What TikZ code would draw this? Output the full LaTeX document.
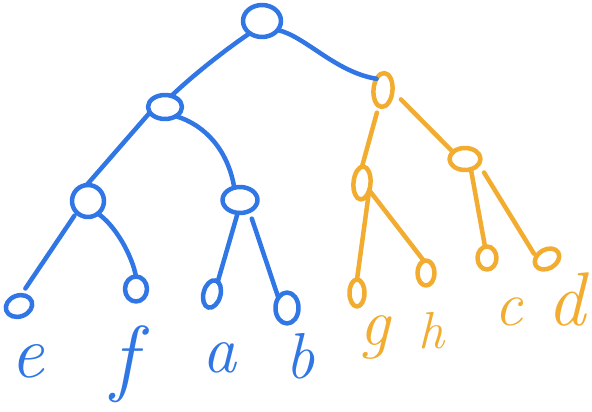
\documentclass[tikz,border=0pt]{standalone}
\usetikzlibrary{shapes.geometric}
\definecolor{penblue}{RGB}{48,118,228}
\definecolor{penorange}{RGB}{242,172,48}
\begin{document}
\begin{tikzpicture}[x=1pt,y=-1pt,
  pen/.style={line width=4.5pt,line cap=round,line join=round},
  blueink/.style={pen,draw=penblue},
  orangeink/.style={pen,draw=penorange},
  knot/.style={ellipse,inner sep=0pt,outer sep=0pt},
  lbl/.style={anchor=base,inner sep=0pt,font=\fontsize{#1}{#1}\selectfont\itshape},
  bluetext/.style={text=penblue},
  orangetext/.style={text=penorange}]
\fill[white] (0,0) rectangle (592,412);
\useasboundingbox (0,0) rectangle (592,412);

% blue nodes
\node[knot,blueink,minimum width=38pt,minimum height=32pt] (root) at (262,21) {};
\node[knot,blueink,minimum width=34pt,minimum height=24pt] (L1) at (165,107) {};
\node[knot,blueink,minimum width=32pt,minimum height=32pt] (LL) at (88,201) {};
\node[knot,blueink,minimum width=35pt,minimum height=26pt] (LR) at (240,200) {};
\node[knot,blueink,minimum width=27pt,minimum height=21pt,rotate=20] (e) at (19,306) {};
\node[knot,blueink,minimum width=22pt,minimum height=25pt] (f) at (136,289) {};
\node[knot,blueink,minimum width=17pt,minimum height=28pt,rotate=-15] (a) at (212,294) {};
\node[knot,blueink,minimum width=23pt,minimum height=31pt] (b) at (287,308) {};

% orange nodes
\node[knot,orangeink,minimum width=19pt,minimum height=34pt,rotate=-5] (R1) at (383,90) {};
\node[knot,orangeink,minimum width=17pt,minimum height=33pt,rotate=-5] (RL) at (362,183) {};
\node[knot,orangeink,minimum width=31pt,minimum height=22pt] (RR) at (465,159) {};
\node[knot,orangeink,minimum width=15pt,minimum height=27pt] (g) at (357,293) {};
\node[knot,orangeink,minimum width=17pt,minimum height=25pt] (h) at (426,273) {};
\node[knot,orangeink,minimum width=19pt,minimum height=23pt] (c) at (487,258) {};
\node[knot,orangeink,minimum width=26pt,minimum height=19pt,rotate=30] (d) at (547,259) {};

% blue connectors
\draw[blueink] (root.225) .. controls (222,52) and (190,78) .. (L1.60);
\draw[blueink] (root.-30) .. controls (305,36) and (335,72) .. (R1.125);
\draw[blueink] (L1.200) -- (LL.95);
\draw[blueink] (L1.-40) .. controls (205,125) and (228,150) .. (LR.115);
\draw[blueink,shorten <=4pt,shorten >=8pt] (LL.225) -- (e.60);
\draw[blueink] (LL.-52) .. controls (115,225) and (132,255) .. (f.90);
\draw[blueink] (LR.-100) -- (a.80);
\draw[blueink,shorten <=8pt] (LR.-50) -- (b.130);

% orange connectors
\draw[orangeink,shorten <=7pt] (R1.-100) -- (RL.95);
\draw[orangeink,shorten <=12pt] (R1.0) -- (RR.150);
\draw[orangeink] (RL.-40) -- (g.90);
\draw[orangeink] (RL.-40) -- (h.100);
\draw[orangeink] (RR.-60) -- (c.100);
\draw[orangeink,shorten <=10pt,shorten >=4pt] (RR.-20) -- (d.140);

% labels
\node[lbl=75,bluetext] (le) at (27,377) {e};
\node[lbl=85,bluetext] (lf) at (124,385) {f};
\node[lbl=68,bluetext] (la) at (219,372) {a};
\node[lbl=65,bluetext] (lb) at (300,378) {b};
\node[lbl=68,orangetext] (lg) at (375,345) {g};
\node[lbl=52,orangetext] (lh) at (431,348) {h};
\node[lbl=63,orangetext] (lc) at (509,325) {c};
\node[lbl=76,orangetext] (ld) at (566,325) {d};
\end{tikzpicture}
\end{document}
